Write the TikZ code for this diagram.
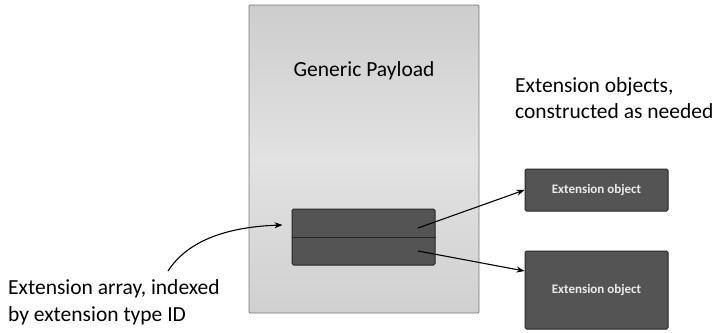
\documentclass[tikz,border=0pt]{standalone}
\usepackage{fontspec}
\setmainfont{Carlito}
\usetikzlibrary{arrows.meta}

\definecolor{paneltop}{HTML}{CDCDCD}
\definecolor{panelmid}{HTML}{E2E2E2}
\definecolor{panelbot}{HTML}{D0D0D0}
\definecolor{panelline}{HTML}{777777}
\definecolor{blockfill}{HTML}{545454}
\definecolor{blockline}{HTML}{262626}

\tikzset{
  panel/.style={draw=panelline, line width=0.8pt, rounded corners=1pt,
    top color=paneltop, bottom color=panelbot, middle color=panelmid,
    minimum width=230pt, minimum height=308pt, inner sep=0pt},
  block/.style={draw=blockline, line width=1pt, fill=blockfill, rounded corners=1.5pt,
    inner sep=0pt},
  extbox/.style={block, minimum width=143pt, text=white!92!black,
    font=\fontsize{13}{15}\selectfont\bfseries},
  caption/.style={font=\fontsize{21.5}{26.5}\selectfont, inner sep=0pt, align=left},
  link/.style={line width=1.1pt, -{Stealth[length=8pt,width=6pt]}},
}

\begin{document}
\begin{tikzpicture}[x=1pt, y=-1pt]
  \useasboundingbox (0,0) rectangle (714,332);

  % payload panel and its extension array
  \node[panel] (payload) at (364,159) {};
  \node[caption, anchor=base] (title) at (364,76) {Generic Payload};
  \node[block, minimum width=143pt, minimum height=56pt] (arr) at (363.5,237) {};
  \draw[blockline, line width=1pt] (arr.west) -- (arr.east);

  % extension objects
  \node[extbox, minimum height=42pt] (ext1) at (596.5,190) {Extension object};
  \node[extbox, minimum height=78pt] (ext2) at (596.5,290) {Extension object};

  % captions (base anchor sits on the last line)
  \node[caption, anchor=base west] (objnote) at (515,118.5)
    {Extension objects,\\constructed as needed};
  \node[caption, anchor=base west] (arrnote) at (8,321)
    {Extension array, indexed\\by extension type ID};

  % connectors
  \draw[link] ([shift={(160,-50)}]arrnote.base west)
    .. controls +(18,-28) and +(-60,2) .. ([shift={(-9,-12)}]arr.west);
  \draw[link] ([shift={(54.5,-9)}]arr.center) -- (ext1.west);
  \draw[link] ([shift={(54.5,14)}]arr.center) -- ([shift={(0,-19)}]ext2.west);
\end{tikzpicture}
\end{document}
